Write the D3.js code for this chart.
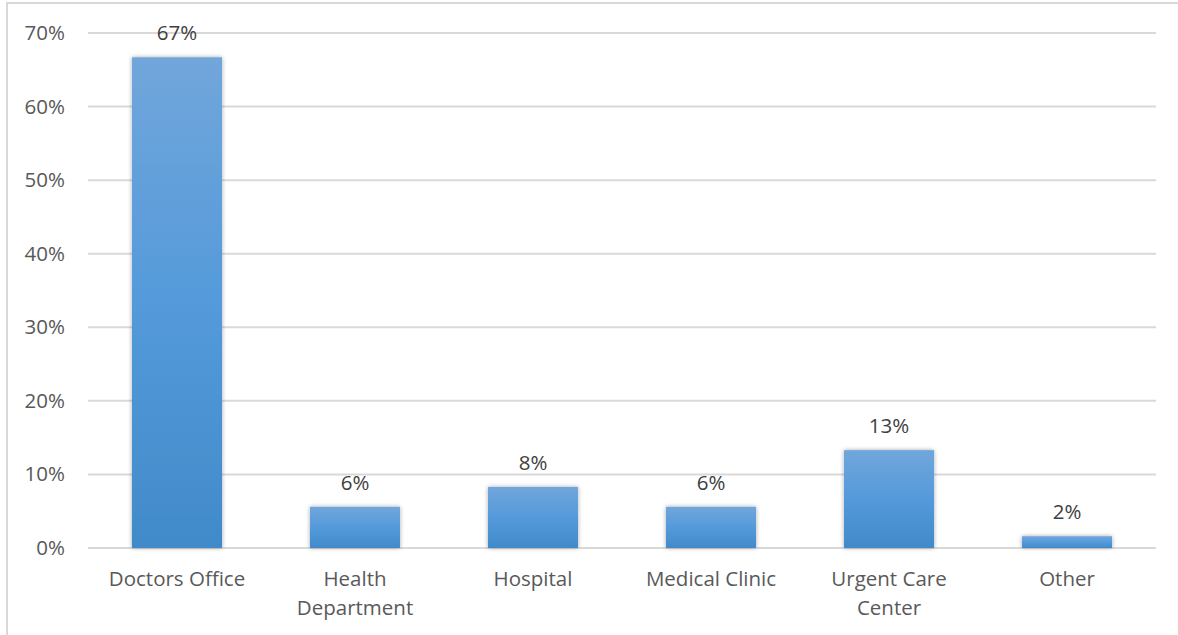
<!DOCTYPE html>
<html>
<head>
<meta charset="utf-8">
<script src="https://cdn.jsdelivr.net/npm/d3@7"></script>
<style>
  body { margin: 0; background: #fff; }
  text { font-family: "Open Sans", "Noto Sans", sans-serif; }
</style>
</head>
<body>
<svg id="chart" width="1178" height="635"></svg>
<script>
// data
var categories = ["Doctors Office", "Health Department", "Hospital", "Medical Clinic", "Urgent Care Center", "Other"];
var labelLines = [["Doctors Office"], ["Health", "Department"], ["Hospital"], ["Medical Clinic"], ["Urgent Care", "Center"], ["Other"]];
var values = [0.667, 0.056, 0.083, 0.056, 0.133, 0.016];
var yTicks = [0, 0.1, 0.2, 0.3, 0.4, 0.5, 0.6, 0.7];

var svg = d3.select('#chart');
var fontSize = '20.5px';

// outer frame (left + top only visible)
svg.append('path')
  .attr('d', 'M7,635 L7,3 L1178,3')
  .attr('fill', 'none')
  .attr('stroke', '#d9d9d9')
  .attr('stroke-width', 2);

var plotLeft = 88, plotRight = 1156, plotTop = 33, plotBottom = 548;

var x = d3.scaleBand().domain(categories).range([plotLeft, plotRight]).paddingInner(0.494).paddingOuter(0.247);
var y = d3.scaleLinear().domain([0, 0.7]).range([plotBottom, plotTop]);

var defs = svg.append('defs');
var grad = defs.append('linearGradient').attr('id', 'barGrad')
  .attr('x1', 0).attr('y1', 0).attr('x2', 0).attr('y2', 1);
grad.append('stop').attr('offset', '0%').attr('stop-color', '#71a6db');
grad.append('stop').attr('offset', '50%').attr('stop-color', '#549ada');
grad.append('stop').attr('offset', '100%').attr('stop-color', '#418ac9');

var shadow = defs.append('filter').attr('id', 'shadow')
  .attr('x', '-20%').attr('y', '-20%').attr('width', '140%').attr('height', '140%');
shadow.append('feDropShadow')
  .attr('dx', 0).attr('dy', 0).attr('stdDeviation', 2.2)
  .attr('flood-color', '#000').attr('flood-opacity', 0.35);

// gridlines
svg.append('g').selectAll('line').data(yTicks).join('line')
  .attr('x1', plotLeft).attr('x2', plotRight)
  .attr('y1', function(d) { return y(d); })
  .attr('y2', function(d) { return y(d); })
  .attr('stroke', '#d9d9d9')
  .attr('stroke-width', 2);

// y axis labels
var yAxis = svg.append('g')
  .attr('transform', 'translate(65,0)')
  .call(d3.axisLeft(y).tickValues(yTicks).tickFormat(d3.format('.0%')).tickSize(0).tickPadding(0));
yAxis.select('.domain').remove();
yAxis.selectAll('text')
  .style('font-size', fontSize)
  .style('font-family', '"Open Sans", sans-serif')
  .attr('fill', '#595959');

// bars
svg.append('g').selectAll('rect').data(values).join('rect')
  .attr('x', function(d, i) { return x(categories[i]); })
  .attr('y', function(d) { return y(d); })
  .attr('width', x.bandwidth())
  .attr('height', function(d) { return y(0) - y(d); })
  .attr('fill', 'url(#barGrad)')
  .attr('filter', 'url(#shadow)');

// value labels
svg.append('g').selectAll('text').data(values).join('text')
  .attr('x', function(d, i) { return x(categories[i]) + x.bandwidth() / 2; })
  .attr('y', function(d) { return y(d) - 17; })
  .attr('text-anchor', 'middle')
  .style('font-size', fontSize)
  .attr('fill', '#404040')
  .text(function(d) { return Math.round(d * 100) + '%'; });

// category labels
var cat = svg.append('g').selectAll('text').data(categories).join('text')
  .attr('text-anchor', 'middle')
  .style('font-size', fontSize)
  .attr('fill', '#595959')
  .attr('y', 586);
cat.each(function(d, i) {
  var t = d3.select(this);
  labelLines[i].forEach(function(line, j) {
    t.append('tspan')
      .attr('x', x(d) + x.bandwidth() / 2)
      .attr('dy', j === 0 ? 0 : 29)
      .text(line);
  });
});
</script>
</body>
</html>
